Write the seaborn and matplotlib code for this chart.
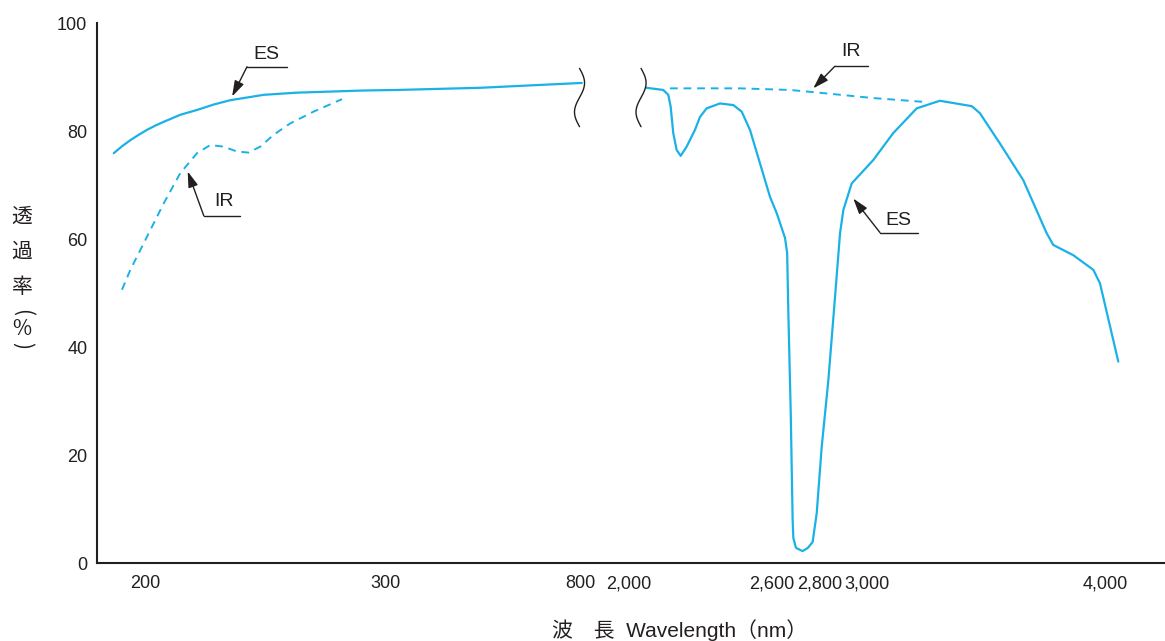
import numpy as np
import pandas as pd
import seaborn as sns
import matplotlib.pyplot as plt
import matplotlib.ticker as ticker

sns.set_theme(style="white")
plt.rcParams['font.family'] = ['Liberation Sans', 'Noto Sans CJK JP', 'DejaVu Sans']

# transmittance (%), wavelength in nm
es_uv_wl = [187.0, 190.5, 193.9, 197.4, 200.8, 204.3, 207.8, 214.7, 221.7, 228.6,
            235.5, 249.5, 263.3, 277.2, 291.1, 330.8, 543.6, 845.0]
es_uv_t = [75.9, 77.2, 78.3, 79.3, 80.2, 81.0, 81.7, 83.0, 83.9, 84.9,
           85.7, 86.7, 87.1, 87.3, 87.5, 87.6, 88.0, 88.9]

ir_uv_wl = [190.4, 193.9, 200.8, 207.8, 214.7, 221.7, 227.2, 232.8, 238.3, 243.2,
            248.0, 253.6, 260.5, 270.3, 282.1]
ir_uv_t = [50.6, 54.3, 60.4, 66.6, 72.2, 75.9, 77.4, 77.1, 76.2, 76.0,
           77.1, 79.3, 81.4, 83.6, 85.9]

es_ir_wl = [2074, 2144, 2165, 2175, 2186, 2200, 2217, 2242, 2277, 2298,
            2326, 2382, 2438, 2473, 2508, 2550, 2592, 2620, 2655, 2664,
            2669, 2679, 2687, 2690, 2701, 2729, 2751, 2771, 2788, 2809,
            2837, 2865, 2886, 2900, 2935, 3025, 3109, 3208, 3305, 3439,
            3473, 3557, 3655, 3753, 3781, 3865, 3949, 3977, 4054]
es_ir_t = [88.0, 87.6, 86.7, 84.5, 79.6, 76.5, 75.4, 77.1, 80.2, 82.6,
           84.2, 85.1, 84.8, 83.6, 80.2, 74.0, 67.8, 64.8, 60.2, 57.4,
           46.3, 27.8, 8.0, 4.6, 2.8, 2.2, 2.8, 3.9, 9.2, 21.5,
           33.9, 49.3, 61.1, 65.4, 70.3, 74.6, 79.6, 84.2, 85.6, 84.6,
           83.3, 77.7, 70.9, 61.1, 58.9, 57.0, 54.3, 51.8, 37.3]

ir_ir_wl = [2172, 2466, 2676, 2774, 3025, 3235]
ir_ir_t = [87.9, 87.9, 87.6, 87.2, 86.1, 85.4]

x_ticks = [200, 300, 800, 2000, 2600, 2800, 3000, 4000]
y_ticks = [0, 20, 40, 60, 80, 100]

# broken wavelength axis: piecewise linear position
knot_wl = [100, 200, 300, 800, 2000, 4000, 5000]
knot_pos = [-95, 145, 385, 580, 629, 1105.5, 1343.75]

def fwd(x):
    return np.interp(x, knot_wl, knot_pos)

def inv(p):
    return np.interp(p, knot_pos, knot_wl)

cyan = '#1ab2e6'
ink = '#231f20'

fig = plt.figure(figsize=(11.65, 6.41), dpi=100)
ax = fig.add_axes([97/1165, 1-563/641, 1068/1165, 540/641])
ax.set_xscale('function', functions=(fwd, inv))

sns.lineplot(x=es_uv_wl, y=es_uv_t, ax=ax, color=cyan, lw=1.6)
sns.lineplot(x=es_ir_wl, y=es_ir_t, ax=ax, color=cyan, lw=1.6)
sns.lineplot(x=ir_uv_wl, y=ir_uv_t, ax=ax, color=cyan, lw=1.4)
ax.lines[-1].set_dashes((4, 3))
sns.lineplot(x=ir_ir_wl, y=ir_ir_t, ax=ax, color=cyan, lw=1.4)
ax.lines[-1].set_dashes((4, 3))

ax.set_xlim(180, 4250)
ax.set_ylim(0, 100)
ax.set_xticks(x_ticks)
ax.set_yticks(y_ticks)
ax.xaxis.set_major_formatter(ticker.FuncFormatter(lambda v, p: '{:,.0f}'.format(v)))
ax.xaxis.set_minor_locator(ticker.NullLocator())

for s in ['top', 'right']:
    ax.spines[s].set_visible(False)
for s in ['left', 'bottom']:
    ax.spines[s].set_color(ink)
    ax.spines[s].set_linewidth(1.5)
ax.tick_params(axis='both', direction='in', length=6, width=1.1, color=ink,
               labelcolor=ink, labelsize=13)
ax.tick_params(axis='x', pad=9)
ax.tick_params(axis='y', pad=7)

# callouts
def callout(label, tip, elbow, end_x, text_xy):
    ax.annotate('', xy=tip, xytext=elbow,
                arrowprops=dict(arrowstyle='-|>,head_length=0.95,head_width=0.3',
                                color=ink, lw=1.0, shrinkA=0, shrinkB=0,
                                mutation_scale=10))
    ax.plot([elbow[0], end_x], [elbow[1], elbow[1]], color=ink, lw=1.0)
    ax.text(text_xy[0], text_xy[1], label, ha='center', va='center',
            fontsize=14, color=ink)

callout('ES', (236.3, 86.4), (242.5, 91.9), 259.2, (250.4, 94.1))
callout('IR', (217.8, 72.5), (224.5, 64.3), 239.5, (232.8, 66.9))
callout('IR', (2773.6, 87.9), (2864.6, 92.0), 3001.9, (2930.5, 94.7))
callout('ES', (2941.5, 67.5), (3053.5, 61.2), 3214.3, (3130.3, 63.4))

# axis break marks
s = np.linspace(0, 1, 60)
for xc in [0.4518, 0.5094]:
    ax.plot(xc + 0.0047*np.sin(2*np.pi*s), 0.916 - 0.108*s, color=ink, lw=1.0,
            transform=ax.transAxes, clip_on=False)

ax.set_xlabel('波　長  Wavelength（nm）', fontsize=15, color=ink,
              family=['Liberation Sans', 'Noto Sans CJK JP'])
ax.xaxis.set_label_coords((680-97)/1068, (563-630)/540)
ax.xaxis.label.set_va('center')

# vertical y label, brackets turned a quarter
ylab = [('透', 217, 0), ('過', 252, 0), ('率', 287, 0),
        ('(', 312, -90), ('%', 329, 0), (')', 346, -90)]
for ch, py, rot in ylab:
    fig.text(22/1165, 1-py/641, ch, ha='center', va='center', rotation=rot,
             fontsize=15, color=ink, family=['Noto Sans CJK JP', 'DejaVu Sans'])

plt.savefig('out.png', dpi=100)
